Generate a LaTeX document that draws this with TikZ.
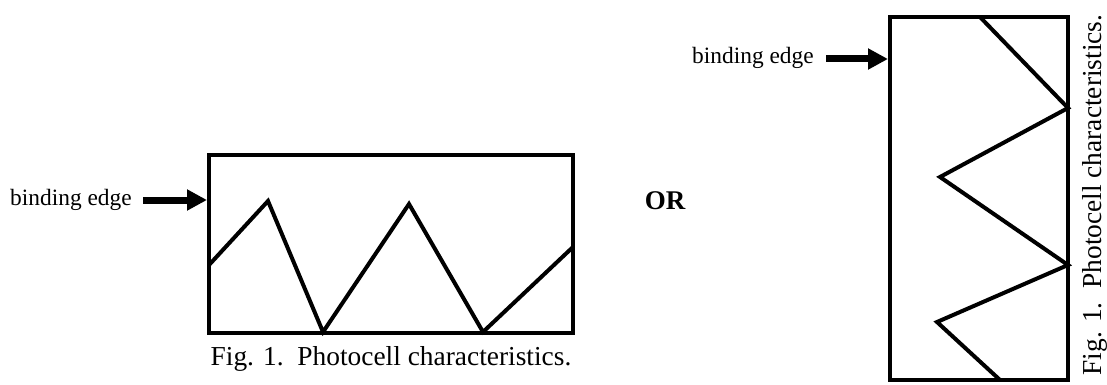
\documentclass[tikz,border=0pt]{standalone}
\usepackage{fontspec}
\setmainfont{Liberation Serif}
\usetikzlibrary{arrows.meta}
\tikzset{
  cellframe/.style={line width=1.8pt},
  zigzag/.style={line width=2pt},
  edgearrow/.style={line width=3.5pt, -{Triangle[length=10pt,width=10pt]}},
  edgelabel/.style={font=\fontsize{11.7}{14}\selectfont, inner sep=0pt},
  figcaption/.style={font=\fontsize{13.7}{16}\selectfont, inner sep=0pt},
}

\begin{document}
\begin{tikzpicture}[x=0.5pt, y=-0.5pt]
        \useasboundingbox (0,0) rectangle (1107,385);
        % landscape cell
        \coordinate (LA) at (209,155);
        \coordinate (LB) at (573,333);
        \draw[cellframe] (LA) rectangle (LB);
        % binding edge (landscape)
        \node[edgelabel] (bindL) at (71,200) {binding edge};
        \coordinate (hitL) at (207,200);
        \draw[edgearrow] (143,200) -- (hitL);
        % characteristic (landscape)
        \coordinate (l0) at (209,265);
        \coordinate (l1) at (268,201);
        \coordinate (l2) at (323,332);
        \coordinate (l3) at (409,204);
        \coordinate (l4) at (483,332);
        \coordinate (l5) at (573,247);
        \draw[zigzag] (l0) -- (l1) -- (l2) -- (l3) -- (l4) -- (l5);
        % caption (landscape)
        \node[figcaption, anchor=base] (capL) at (391,365) {Fig. 1.\ \ Photocell characteristics.};
        % OR
        \node[figcaption, font=\fontsize{13.5}{16}\selectfont\bfseries] (or) at (665,201) {OR};
        % portrait cell
        \coordinate (PA) at (890,17);
        \coordinate (PB) at (1068,380);
        \draw[cellframe] (PA) rectangle (PB);
        % binding edge (portrait)
        \node[edgelabel] (bindP) at (753,58) {binding edge};
        \coordinate (hitP) at (888,59);
        \draw[edgearrow] (826,59) -- (hitP);
        % characteristic (portrait)
        \coordinate (p0) at (980,17);
        \coordinate (p1) at (1068,108);
        \coordinate (p2) at (940,177);
        \coordinate (p3) at (1068,265);
        \coordinate (p4) at (937,322);
        \coordinate (p5) at (1000,380);
        \draw[zigzag] (p0) -- (p1) -- (p2) -- (p3) -- (p4) -- (p5);
        % caption (portrait)
        \node[figcaption, anchor=base, rotate=90] (capP) at (1101,195) {Fig. 1.\ \ Photocell characteristics.};
\end{tikzpicture}
\end{document}
